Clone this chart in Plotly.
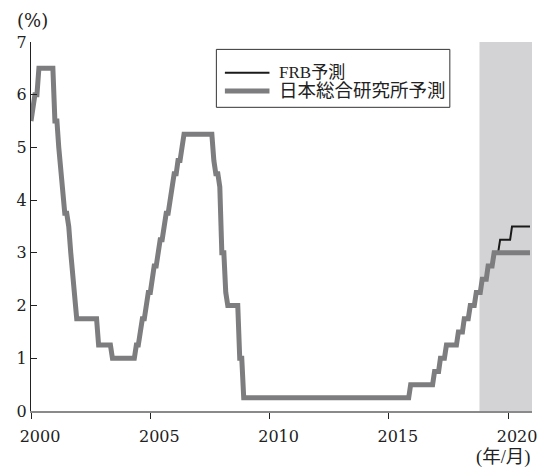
import pandas as pd
import plotly.graph_objects as go

# Monthly policy-rate path (upper bound, %), Jan 2000 - Dec 2020
months = pd.date_range("2000-01-01", "2020-12-01", freq="MS")
jri_path = [
    5.5, 5.75, 6.0, 6.0, 6.5, 6.5, 6.5, 6.5, 6.5, 6.5, 6.5, 6.5,          # 2000
    5.5, 5.5, 5.0, 4.5, 4.0, 3.75, 3.75, 3.5, 3.0, 2.5, 2.0, 1.75,        # 2001
    1.75, 1.75, 1.75, 1.75, 1.75, 1.75, 1.75, 1.75, 1.75, 1.75, 1.25, 1.25,  # 2002
    1.25, 1.25, 1.25, 1.25, 1.25, 1.0, 1.0, 1.0, 1.0, 1.0, 1.0, 1.0,      # 2003
    1.0, 1.0, 1.0, 1.0, 1.0, 1.25, 1.25, 1.5, 1.75, 1.75, 2.0, 2.25,      # 2004
    2.25, 2.5, 2.75, 2.75, 3.0, 3.25, 3.25, 3.5, 3.75, 3.75, 4.0, 4.25,   # 2005
    4.5, 4.5, 4.75, 4.75, 5.0, 5.25, 5.25, 5.25, 5.25, 5.25, 5.25, 5.25,  # 2006
    5.25, 5.25, 5.25, 5.25, 5.25, 5.25, 5.25, 5.25, 4.75, 4.5, 4.5, 4.25,  # 2007
    3.0, 3.0, 2.25, 2.0, 2.0, 2.0, 2.0, 2.0, 2.0, 1.0, 1.0, 0.25,         # 2008
    0.25, 0.25, 0.25, 0.25, 0.25, 0.25, 0.25, 0.25, 0.25, 0.25, 0.25, 0.25,  # 2009
    0.25, 0.25, 0.25, 0.25, 0.25, 0.25, 0.25, 0.25, 0.25, 0.25, 0.25, 0.25,  # 2010
    0.25, 0.25, 0.25, 0.25, 0.25, 0.25, 0.25, 0.25, 0.25, 0.25, 0.25, 0.25,  # 2011
    0.25, 0.25, 0.25, 0.25, 0.25, 0.25, 0.25, 0.25, 0.25, 0.25, 0.25, 0.25,  # 2012
    0.25, 0.25, 0.25, 0.25, 0.25, 0.25, 0.25, 0.25, 0.25, 0.25, 0.25, 0.25,  # 2013
    0.25, 0.25, 0.25, 0.25, 0.25, 0.25, 0.25, 0.25, 0.25, 0.25, 0.25, 0.25,  # 2014
    0.25, 0.25, 0.25, 0.25, 0.25, 0.25, 0.25, 0.25, 0.25, 0.25, 0.25, 0.5,   # 2015
    0.5, 0.5, 0.5, 0.5, 0.5, 0.5, 0.5, 0.5, 0.5, 0.5, 0.5, 0.75,          # 2016
    0.75, 0.75, 1.0, 1.0, 1.0, 1.25, 1.25, 1.25, 1.25, 1.25, 1.25, 1.5,   # 2017
    1.5, 1.5, 1.75, 1.75, 1.75, 2.0, 2.0, 2.0, 2.25, 2.25, 2.25, 2.5,     # 2018
    2.5, 2.5, 2.75, 2.75, 2.75, 3.0, 3.0, 3.0, 3.0, 3.0, 3.0, 3.0,        # 2019
    3.0, 3.0, 3.0, 3.0, 3.0, 3.0, 3.0, 3.0, 3.0, 3.0, 3.0, 3.0,           # 2020
]

# FRB projection path, Sep 2018 - Dec 2020
frb_months = pd.date_range("2018-09-01", "2020-12-01", freq="MS")
frb_path = [
    2.25, 2.25, 2.25, 2.5,                                                 # 2018 Sep-Dec
    2.5, 2.5, 2.75, 2.75, 2.75, 3.0, 3.0, 3.0, 3.25, 3.25, 3.25, 3.25,    # 2019
    3.25, 3.25, 3.5, 3.5, 3.5, 3.5, 3.5, 3.5, 3.5, 3.5, 3.5, 3.5,         # 2020
]

series_names = ["FRB予測", "日本総合研究所予測"]
series_colors = ["#1a1a1a", "#7d7d7f"]
series_widths = [2, 5]

forecast_start = "2018-10-20"
x_end = "2021-01-01"
tick_years = ["2000", "2005", "2010", "2015", "2020"]
y_ticks = [0, 1, 2, 3, 4, 5, 6, 7]

NUM_FONT = "'DejaVu Serif', serif"
TXT_FONT = "'Liberation Serif', 'Noto Sans CJK JP', serif"
TXT = "#222222"

fig = go.Figure()

# FRB path sits underneath the JRI path
fig.add_trace(go.Scatter(
    x=frb_months, y=frb_path, mode="lines", name=series_names[0],
    line=dict(color=series_colors[0], width=series_widths[0]),
    showlegend=False,
))
fig.add_trace(go.Scatter(
    x=months, y=jri_path, mode="lines", name=series_names[1],
    line=dict(color=series_colors[1], width=series_widths[1]),
    showlegend=False,
))

# forecast period
fig.add_shape(
    type="rect", xref="x", yref="paper",
    x0=forecast_start, x1=x_end, y0=0, y1=1,
    fillcolor="#d3d3d5", line=dict(width=0), layer="below",
)

# boxed key in the upper middle of the plot
key_x0, key_x1, key_y0, key_y1 = 0.370, 0.836, 0.823, 0.980
sample_x0, sample_x1, text_x = 0.387, 0.476, 0.491
row_y = [0.917, 0.867]
row_size = [17, 18.5]
fig.add_shape(
    type="rect", xref="paper", yref="paper",
    x0=key_x0, x1=key_x1, y0=key_y0, y1=key_y1,
    fillcolor="white", line=dict(color="#333333", width=1), layer="above",
)
annotations = []
for name, color, width, ry, fs in zip(series_names, series_colors,
                                      series_widths, row_y, row_size):
    fig.add_shape(
        type="line", xref="paper", yref="paper",
        x0=sample_x0, x1=sample_x1, y0=ry, y1=ry,
        line=dict(color=color, width=width), layer="above",
    )
    annotations.append(dict(
        text=name, xref="paper", yref="paper", x=text_x, y=ry,
        xanchor="left", yanchor="middle", showarrow=False,
        font=dict(family=TXT_FONT, size=fs, color=TXT),
    ))

annotations += [
    dict(text="(%)", xref="paper", yref="paper", x=-0.032, y=1.0596,
         xanchor="left", yanchor="middle", showarrow=False,
         font=dict(family=NUM_FONT, size=18, color=TXT)),
    dict(text="(年/月)", xref="paper", yref="paper", x=1.0, y=-0.127,
         xanchor="right", yanchor="middle", showarrow=False,
         font=dict(family=TXT_FONT, size=18.5, color=TXT)),
]

fig.update_layout(
    width=548, height=470,
    margin=dict(l=31, r=11, t=42, b=59),
    paper_bgcolor="white", plot_bgcolor="white",
    font=dict(family=TXT_FONT, size=18, color=TXT),
    showlegend=False,
    annotations=annotations,
)

fig.update_xaxes(
    type="date", range=["2000-01-01", x_end],
    tickvals=[f"{y}-01-01" for y in tick_years], ticktext=tick_years,
    ticks="outside", ticklen=6, tickwidth=1, tickcolor="#222222",
    showline=True, linecolor="#8a8a8a", linewidth=2,
    showgrid=False, zeroline=False,
    ticklabelshift=9, ticklabelstandoff=4,
    tickfont=dict(family=NUM_FONT, size=16, color=TXT),
)
fig.update_yaxes(
    range=[0, 7], tickvals=y_ticks, ticktext=[str(v) for v in y_ticks],
    ticks="inside", ticklen=6, tickwidth=1, tickcolor="#222222",
    showline=True, linecolor="#222222", linewidth=1,
    showgrid=False, zeroline=False,
    tickfont=dict(family=NUM_FONT, size=16, color=TXT),
)

fig.write_html("out.html")
